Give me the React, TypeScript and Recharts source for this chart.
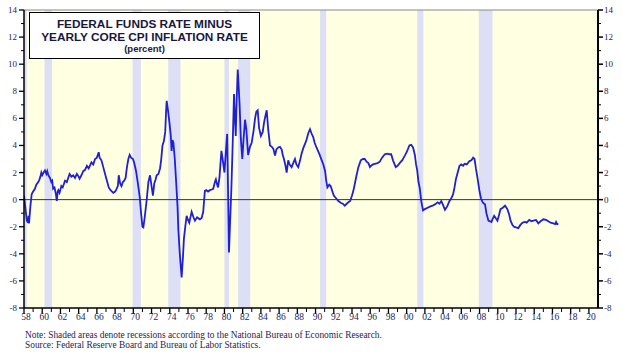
import React from 'react';
import { ComposedChart, Line, XAxis, YAxis, ReferenceArea, ReferenceLine } from 'recharts';

// Fed funds rate minus yearly core CPI inflation (percent)
const realRateYears = [
  1958.0, 1958.15, 1958.3, 1958.42, 1958.5, 1958.55, 1958.7, 1958.84, 1959.0, 1959.2, 1959.35, 1959.57, 1959.7, 1959.8, 1959.9,
  1960.0, 1960.15, 1960.3, 1960.45, 1960.55, 1960.67, 1960.85, 1961.0, 1961.1, 1961.2, 1961.35, 1961.5, 1961.6, 1961.7, 1961.77, 1961.9,
  1962.1, 1962.25, 1962.5, 1962.7, 1962.85, 1963.0, 1963.2, 1963.4, 1963.6, 1963.8, 1964.0, 1964.1, 1964.3, 1964.5, 1964.7, 1964.9,
  1965.1, 1965.4, 1965.6, 1965.8, 1966.0, 1966.2, 1966.3, 1966.5, 1966.7, 1966.9, 1967.1, 1967.3, 1967.5, 1967.8, 1968.0, 1968.1,
  1968.3, 1968.4, 1968.55, 1968.7, 1968.85, 1969.0, 1969.15, 1969.3, 1969.45, 1969.6, 1969.75, 1969.96, 1970.1, 1970.3, 1970.5, 1970.7,
  1970.85, 1971.0, 1971.1, 1971.25, 1971.47, 1971.65, 1971.83, 1972.0, 1972.15, 1972.3, 1972.45, 1972.56, 1972.75, 1972.93, 1973.05,
  1973.2, 1973.35, 1973.5, 1973.6, 1973.66, 1973.8, 1973.96, 1974.1, 1974.2, 1974.3, 1974.4, 1974.55, 1974.7, 1974.85, 1974.94,
  1975.1, 1975.3, 1975.45, 1975.55, 1975.7, 1975.85, 1976.0, 1976.14, 1976.3, 1976.4, 1976.6, 1976.76, 1977.0, 1977.3, 1977.5,
  1977.67, 1977.85, 1978.0, 1978.2, 1978.4, 1978.6, 1978.77, 1978.95, 1979.06, 1979.2, 1979.3, 1979.45, 1979.6, 1979.67, 1979.8,
  1980.0, 1980.15, 1980.3, 1980.4, 1980.5, 1980.6, 1980.76, 1980.9, 1981.05, 1981.15, 1981.24, 1981.35, 1981.46, 1981.55, 1981.67,
  1981.8, 1981.96, 1982.1, 1982.26, 1982.4, 1982.6, 1982.8, 1982.99, 1983.2, 1983.36, 1983.5, 1983.65, 1983.8, 1984.0, 1984.2,
  1984.35, 1984.5, 1984.64, 1984.8, 1985.0, 1985.2, 1985.37, 1985.55, 1985.7, 1985.9, 1986.1, 1986.28, 1986.4, 1986.53, 1986.7,
  1986.83, 1987.0, 1987.15, 1987.37, 1987.55, 1987.74, 1987.9, 1988.1, 1988.3, 1988.47, 1988.65, 1988.83, 1989.0, 1989.2, 1989.39,
  1989.55, 1989.75, 1989.9, 1990.1, 1990.4, 1990.68, 1990.85, 1991.05, 1991.15, 1991.3, 1991.5, 1991.66, 1991.85, 1992.0, 1992.25,
  1992.5, 1992.8, 1993.0, 1993.2, 1993.5, 1993.8, 1994.0, 1994.15, 1994.35, 1994.5, 1994.7, 1994.96, 1995.2, 1995.4, 1995.6,
  1995.8, 1995.97, 1996.1, 1996.3, 1996.6, 1996.8, 1997.05, 1997.3, 1997.6, 1997.9, 1998.1, 1998.3, 1998.5, 1998.8, 1999.0,
  1999.3, 1999.5, 1999.8, 2000.0, 2000.3, 2000.5, 2000.7, 2000.9, 2001.03, 2001.15, 2001.3, 2001.45, 2001.6, 2001.8, 2002.0,
  2002.3, 2002.6, 2002.85, 2003.1, 2003.4, 2003.6, 2003.8, 2004.0, 2004.2, 2004.45, 2004.7, 2004.9, 2005.1, 2005.25, 2005.4,
  2005.6, 2005.8, 2006.0, 2006.2, 2006.35, 2006.6, 2006.9, 2007.1, 2007.3, 2007.45, 2007.6, 2007.8, 2008.0, 2008.15, 2008.34,
  2008.5, 2008.6, 2008.75, 2008.97, 2009.15, 2009.3, 2009.45, 2009.6, 2009.8, 2009.96, 2010.15, 2010.3, 2010.55, 2010.8, 2011.05,
  2011.25, 2011.4, 2011.6, 2011.78, 2012.0, 2012.25, 2012.5, 2012.73, 2013.0, 2013.17, 2013.46, 2013.7, 2013.9, 2014.2, 2014.45,
  2014.7, 2015.0, 2015.3, 2015.55, 2015.8, 2016.1, 2016.3, 2016.4, 2016.5, 2016.65,
];

const realRateValues = [
  0.3, -0.6, -1.5, -1.7, -1.2, -1.75, -0.5, 0.4, 0.6, 0.8, 1.1, 1.3, 1.5, 1.7, 2.0,
  1.8, 2.0, 2.15, 1.9, 2.1, 1.8, 1.6, 1.3, 1.4, 0.8, 0.9, 0.4, -0.1, 0.6, 0.7, 0.5,
  1.0, 0.9, 1.4, 1.3, 1.6, 1.9, 1.7, 1.8, 1.6, 1.9, 1.7, 1.55, 1.8, 2.1, 2.2, 2.5,
  2.3, 2.75, 2.6, 3.0, 3.1, 3.5, 3.1, 2.9, 2.4, 1.9, 1.4, 0.9, 0.7, 0.5, 0.6, 0.7,
  1.0, 1.8, 1.2, 1.0, 1.3, 1.4, 1.6, 2.4, 3.0, 3.3, 3.1, 3.0, 2.7, 2.1, 1.2, 0.2,
  -1.0, -2.0, -2.05, -1.3, 0.0, 1.3, 1.8, 1.0, 0.3, 1.2, 1.5, 1.8, 1.9, 2.3, 2.9,
  4.0, 4.3, 5.0, 6.6, 7.3, 6.6, 5.7, 4.8, 3.6, 4.4, 4.2, 3.0, 1.3, -0.5, -2.2,
  -4.0, -5.75, -4.2, -2.9, -2.0, -1.2, -1.5, -1.7, -1.2, -0.9, -1.3, -1.55, -1.3, -1.45, -1.35,
  -0.9, 0.65, 0.7, 0.6, 0.7, 0.75, 0.8, 1.3, 1.5, 1.1, 0.9, 1.6, 3.0, 3.6, 3.0,
  2.0, 3.5, 4.85, 0.5, -3.9, -2.0, 0.8, 4.0, 7.8, 6.0, 4.7, 7.5, 9.6, 8.5, 6.9,
  4.5, 3.0, 4.5, 5.9, 5.2, 3.3, 3.9, 4.2, 5.1, 6.0, 6.5, 6.6, 5.3, 4.7, 5.0,
  5.7, 6.2, 6.6, 5.2, 4.0, 3.9, 3.75, 3.25, 3.7, 3.85, 3.9, 3.7, 3.3, 3.0, 2.5,
  2.0, 2.9, 2.6, 2.4, 2.7, 3.0, 2.6, 2.4, 2.9, 3.4, 3.8, 4.1, 4.4, 4.9, 5.2,
  4.9, 4.6, 4.2, 3.85, 3.4, 2.9, 2.6, 2.1, 1.5, 0.9, 1.1, 1.0, 0.6, 0.3, 0.1,
  -0.1, -0.25, -0.3, -0.45, -0.25, -0.1, 0.3, 0.65, 1.3, 1.8, 2.4, 2.9, 3.0, 3.0, 2.8,
  2.7, 2.4, 2.5, 2.6, 2.65, 2.7, 2.8, 3.1, 3.35, 3.4, 3.35, 3.35, 2.9, 2.4, 2.5,
  2.75, 2.9, 3.25, 3.5, 4.0, 4.05, 3.85, 3.3, 2.6, 2.2, 1.3, 0.8, -0.1, -0.8, -0.7,
  -0.6, -0.5, -0.45, -0.35, -0.2, -0.3, -0.1, -0.4, -0.75, -0.5, -0.1, 0.1, 0.4, 0.9, 1.5,
  2.0, 2.5, 2.6, 2.5, 2.65, 2.6, 2.85, 2.9, 3.1, 3.0, 2.3, 1.5, 0.6, 0.1, -0.2,
  -0.3, -0.35, -1.0, -1.55, -1.6, -1.65, -1.4, -1.2, -1.4, -1.55, -1.1, -0.7, -0.6, -0.45, -0.7,
  -1.1, -1.55, -1.85, -2.0, -2.05, -2.1, -1.85, -1.7, -1.65, -1.7, -1.5, -1.6, -1.55, -1.5, -1.75,
  -1.6, -1.45, -1.5, -1.6, -1.7, -1.75, -1.8, -1.65, -1.8, -1.8,
];

// NBER recessions
const recessionStarts = [1957.9, 1960.25, 1969.92, 1973.83, 1980.0, 1981.5, 1990.5, 2001.17, 2007.92];
const recessionEnds = [1958.3, 1961.08, 1970.83, 1975.17, 1980.5, 1982.83, 1991.17, 2001.83, 2009.42];

const xMajorYears = [1958, 1960, 1962, 1964, 1966, 1968, 1970, 1972, 1974, 1976, 1978, 1980, 1982, 1984, 1986, 1988, 1990,
  1992, 1994, 1996, 1998, 2000, 2002, 2004, 2006, 2008, 2010, 2012, 2014, 2016, 2018, 2020];
const xTickLabels = ['58', '60', '62', '64', '66', '68', '70', '72', '74', '76', '78', '80', '82', '84', '86', '88', '90',
  '92', '94', '96', '98', '00', '02', '04', '06', '08', '10', '12', '14', '16', '18', '20'];
const xMinorYears = [1959, 1961, 1963, 1965, 1967, 1969, 1971, 1973, 1975, 1977, 1979, 1981, 1983, 1985, 1987, 1989, 1991,
  1993, 1995, 1997, 1999, 2001, 2003, 2005, 2007, 2009, 2011, 2013, 2015, 2017, 2019];
const yMajorTicks = [-8, -6, -4, -2, 0, 2, 4, 6, 8, 10, 12, 14];
const yMinorTicks = [-7, -5, -3, -1, 1, 3, 5, 7, 9, 11, 13];

const titleLines = ['FEDERAL FUNDS RATE MINUS', 'YEARLY CORE CPI INFLATION RATE'];
const titleUnit = '(percent)';
const noteLines = [
  'Note: Shaded areas denote recessions according to the National Bureau of Economic Research.',
  'Source: Federal Reserve Board and Bureau of Labor Statistics.',
];

const data = realRateYears.map((year, i) => ({ year, value: realRateValues[i] }));
const xTicks = [...xMajorYears, ...xMinorYears].sort((a, b) => a - b);
const yTicks = [...yMajorTicks, ...yMinorTicks].sort((a, b) => a - b);

const LABEL_COLOR = '#1e1e55';
const SERIF = '"Liberation Serif", "DejaVu Serif", serif';

const XTick = (props: any) => {
  const { x, y, payload } = props;
  const idx = xMajorYears.indexOf(payload.value);
  const major = idx >= 0;
  return (
    <g>
      <line x1={x} x2={x} y1={y} y2={y + (major ? 6 : 4)} stroke="#000" strokeWidth={major ? 1.3 : 1} />
      {major && (
        <text x={x + 2} y={y + 12} textAnchor="middle" fontSize={9.5} fontFamily={SERIF} fill={LABEL_COLOR}>
          {xTickLabels[idx]}
        </text>
      )}
    </g>
  );
};

const LeftTick = (props: any) => {
  const { x, y, payload } = props;
  const major = yMajorTicks.includes(payload.value);
  return (
    <g>
      <line x1={x} x2={x - (major ? 5 : 3)} y1={y} y2={y} stroke="#000" strokeWidth={major ? 1.3 : 1} />
      {major && (
        <text x={x - 7} y={y + 3} textAnchor="end" fontSize={9} fontFamily={SERIF} fill={LABEL_COLOR}>
          {payload.value}
        </text>
      )}
    </g>
  );
};

const RightTick = (props: any) => {
  const { x, y, payload } = props;
  const major = yMajorTicks.includes(payload.value);
  return (
    <g>
      <line x1={x} x2={x + (major ? 5 : 3)} y1={y} y2={y} stroke="#000" strokeWidth={major ? 1.5 : 1} />
      {major && (
        <text x={x + 6} y={y + 3} textAnchor="start" fontSize={9} fontFamily={SERIF} fill={LABEL_COLOR}>
          {payload.value}
        </text>
      )}
    </g>
  );
};

export default function App() {
  return (
    <div style={{ position: 'absolute', left: 0, top: 0, width: 622, height: 354, background: '#fff', overflow: 'hidden' }}>
      <ComposedChart width={622} height={354} data={data} margin={{ top: 10, right: 0, bottom: 0, left: 0 }}>
        <XAxis
          dataKey="year"
          type="number"
          domain={[1958, 2021]}
          ticks={xTicks}
          interval={0}
          tick={<XTick />}
          tickLine={false}
          tickSize={0}
          tickMargin={0}
          height={46}
          axisLine={{ stroke: '#000', strokeWidth: 1.3 }}
          allowDataOverflow
        />
        <YAxis
          yAxisId="left"
          orientation="left"
          type="number"
          domain={[-8, 14]}
          ticks={yTicks}
          interval={0}
          tick={<LeftTick />}
          tickLine={false}
          tickSize={0}
          tickMargin={0}
          width={24}
          axisLine={{ stroke: '#000', strokeWidth: 1.5 }}
          allowDataOverflow
        />
        <YAxis
          yAxisId="right"
          orientation="right"
          type="number"
          domain={[-8, 14]}
          ticks={yTicks}
          interval={0}
          tick={<RightTick />}
          tickLine={false}
          tickSize={0}
          tickMargin={0}
          width={24}
          axisLine={{ stroke: '#000', strokeWidth: 2 }}
          allowDataOverflow
        />
        <ReferenceArea yAxisId="left" x1={1958} x2={2021} y1={-8} y2={14} fill="#FFFFE2" fillOpacity={1} stroke="none" />
        {recessionStarts.map((s, i) => (
          <ReferenceArea
            key={i}
            yAxisId="left"
            x1={Math.max(s, 1958)}
            x2={recessionEnds[i]}
            y1={-8}
            y2={14}
            fill="#DCDFF5"
            fillOpacity={1}
            stroke="none"
          />
        ))}
        <ReferenceLine yAxisId="left" y={14} stroke="#888" strokeWidth={1} />
        <ReferenceLine yAxisId="left" y={0} stroke="#333" strokeWidth={1} />
        <Line
          yAxisId="left"
          type="linear"
          dataKey="value"
          stroke="#1f1fd6"
          strokeWidth={1.8}
          dot={false}
          isAnimationActive={false}
        />
      </ComposedChart>
      <div
        style={{
          position: 'absolute',
          left: 29,
          top: 12,
          width: 229,
          height: 45,
          border: '1px solid #000',
          background: '#fff',
          textAlign: 'center',
          fontFamily: '"Liberation Sans", Arial, sans-serif',
          fontWeight: 'bold',
          color: '#18183c',
          boxSizing: 'content-box',
        }}
      >
        <div style={{ fontSize: 11.8, lineHeight: '12.5px', marginTop: 5 }}>{titleLines[0]}</div>
        <div style={{ fontSize: 11.8, lineHeight: '12.5px' }}>{titleLines[1]}</div>
        <div style={{ fontSize: 9.5, lineHeight: '11px' }}>{titleUnit}</div>
      </div>
      <div
        style={{
          position: 'absolute',
          left: 25,
          top: 330,
          fontFamily: SERIF,
          fontSize: 9.4,
          lineHeight: '10px',
          color: LABEL_COLOR,
          whiteSpace: 'nowrap',
        }}
      >
        <div>{noteLines[0]}</div>
        <div>{noteLines[1]}</div>
      </div>
    </div>
  );
}
